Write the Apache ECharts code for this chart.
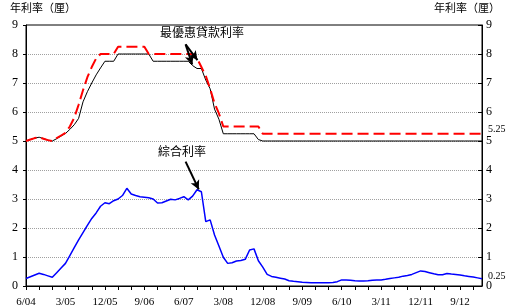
<!DOCTYPE html>
<html><head><meta charset="utf-8">
<script src="https://cdn.jsdelivr.net/npm/echarts@6/dist/echarts.min.js"></script>
<style>html,body{margin:0;padding:0;background:#fff}#c{width:511px;height:308px}</style>
</head><body><div id="c"></div>
<script>
var categories = [
'6/04','7/04','8/04','9/04','10/04','11/04','12/04',
'1/05','2/05','3/05','4/05','5/05','6/05','7/05','8/05','9/05','10/05','11/05','12/05',
'1/06','2/06','3/06','4/06','5/06','6/06','7/06','8/06','9/06','10/06','11/06','12/06',
'1/07','2/07','3/07','4/07','5/07','6/07','7/07','8/07','9/07','10/07','11/07','12/07',
'1/08','2/08','3/08','4/08','5/08','6/08','7/08','8/08','9/08','10/08','11/08','12/08',
'1/09','2/09','3/09','4/09','5/09','6/09','7/09','8/09','9/09','10/09','11/09','12/09',
'1/10','2/10','3/10','4/10','5/10','6/10','7/10','8/10','9/10','10/10','11/10','12/10',
'1/11','2/11','3/11','4/11','5/11','6/11','7/11','8/11','9/11','10/11','11/11','12/11',
'1/12','2/12','3/12','4/12','5/12','6/12','7/12','8/12','9/12','10/12','11/12','12/12',
'1/13','2/13'];

var primeBlack = [
5.0,5.05,5.10,5.13,5.08,5.03,5.0,5.08,5.17,5.26,
5.40,5.56,5.78,6.35,6.70,7.0,7.28,7.52,7.75,7.75,
7.75,8.0,8.0,8.0,8.0,8.0,8.0,8.0,8.0,7.75,
7.75,7.75,7.75,7.75,7.75,7.75,7.75,7.75,7.6,7.5,
7.5,7.1,6.8,6.1,5.75,5.25,5.25,5.25,5.25,5.25,
5.25,5.25,5.25,5.05,5.0,5.0,5.0,5.0,5.0,5.0,
5.0,5.0,5.0,5.0,5.0,5.0,5.0,5.0,5.0,5.0,
5.0,5.0,5.0,5.0,5.0,5.0,5.0,5.0,5.0,5.0,
5.0,5.0,5.0,5.0,5.0,5.0,5.0,5.0,5.0,5.0,
5.0,5.0,5.0,5.0,5.0,5.0,5.0,5.0,5.0,5.0,
5.0,5.0,5.0,5.0,5.0];

var primeRed = [
5.0,5.05,5.10,5.13,5.08,5.03,5.0,5.10,5.19,5.28,
5.50,5.80,6.25,6.75,7.20,7.55,7.85,8.0,8.0,8.0,
8.0,8.25,8.25,8.25,8.25,8.25,8.25,8.25,8.0,8.0,
8.0,8.0,8.0,8.0,8.0,8.0,8.0,8.0,8.0,7.85,
7.55,7.25,6.8,6.3,5.95,5.5,5.5,5.5,5.5,5.5,
5.5,5.5,5.5,5.5,5.25,5.25,5.25,5.25,5.25,5.25,
5.25,5.25,5.25,5.25,5.25,5.25,5.25,5.25,5.25,5.25,
5.25,5.25,5.25,5.25,5.25,5.25,5.25,5.25,5.25,5.25,
5.25,5.25,5.25,5.25,5.25,5.25,5.25,5.25,5.25,5.25,
5.25,5.25,5.25,5.25,5.25,5.25,5.25,5.25,5.25,5.25,
5.25,5.25,5.25,5.25,5.25];

var composite = [
0.26,0.32,0.38,0.44,0.40,0.35,0.30,0.46,0.62,0.78,
1.05,1.32,1.59,1.84,2.09,2.33,2.52,2.75,2.87,2.84,
2.94,3.00,3.12,3.37,3.17,3.12,3.08,3.06,3.04,3.00,
2.86,2.87,2.93,2.99,2.97,3.02,3.08,2.97,3.10,3.32,
3.25,2.22,2.28,1.76,1.38,0.99,0.78,0.80,0.86,0.88,
0.92,1.24,1.28,0.87,0.65,0.40,0.33,0.30,0.27,0.24,
0.18,0.16,0.15,0.13,0.12,0.11,0.11,0.11,0.11,0.11,
0.12,0.15,0.21,0.21,0.20,0.18,0.17,0.17,0.18,0.20,
0.21,0.21,0.23,0.26,0.28,0.30,0.34,0.36,0.40,0.46,
0.52,0.50,0.46,0.42,0.39,0.39,0.43,0.41,0.40,0.38,
0.35,0.33,0.31,0.28,0.25];

var yTicks = [0,1,2,3,4,5,6,7,8,9];
var axisTitle = '年利率（厘）';
var primeLabel = '最優惠貸款利率';
var compositeLabel = '綜合利率';
var primeEndText = '5.25';
var compositeEndText = '0.25';

// annotation arrows: [monthIndex, value] pairs
var primeArrows = [[[36.4, 8.33],[37.9, 7.64]], [[36.4, 8.33],[39.1, 7.79]]];
var compositeArrow = [[36.4, 4.29],[39.4, 3.33]];

var serif = '"Liberation Serif", "DejaVu Serif", serif';
var cjk = '"Noto Sans CJK TC", "Noto Sans CJK SC", sans-serif';

var chart = echarts.init(document.getElementById('c'), null, {renderer: 'canvas'});

function yAxisCfg(pos) {
  return {
    type: 'value', position: pos, min: 0, max: 9, interval: 1,
    axisLine: {show: true, lineStyle: {color: '#000', width: 1}},
    axisTick: {show: true, inside: pos === 'right', length: pos === 'right' ? 4 : 3, lineStyle: {color: '#000'}},
    axisLabel: {show: true, color: '#000', fontFamily: serif, fontSize: 12, margin: pos === 'right' ? 4 : 8},
    splitLine: {show: pos === 'left', showMinLine: false, showMaxLine: false,
      lineStyle: {color: '#a0a0a0', type: [1, 1], width: 1}}
  };
}

function arrowLine(pair) {
  return [{coord: pair[0], symbol: 'none'}, {coord: pair[1], symbol: 'arrow'}];
}

var option = {
  animation: false,
  backgroundColor: '#fff',
  grid: {left: 26, right: 29, top: 25, bottom: 22, show: true, borderColor: '#000', borderWidth: 1, backgroundColor: 'transparent'},
  xAxis: [{
    type: 'category', data: categories, boundaryGap: false,
    axisLine: {show: true, onZero: false, lineStyle: {color: '#000'}},
    axisTick: {show: true, interval: 2, length: 4, lineStyle: {color: '#000'}},
    axisLabel: {interval: 8, color: '#000', fontFamily: serif, fontSize: 11, margin: 11},
    splitLine: {show: false}
  }, {
    type: 'value', min: 0, max: categories.length - 1, show: false, position: 'bottom'
  }],
  yAxis: [yAxisCfg('left'), yAxisCfg('right')],
  graphic: [
    {type: 'text', left: 10, top: 2, style: {text: axisTitle, font: '11px ' + cjk, fill: '#000'}},
    {type: 'text', right: 11, top: 2, style: {text: axisTitle, font: '11px ' + cjk, fill: '#000'}},
    {type: 'text', left: 160, top: 26, style: {text: primeLabel, font: '12px ' + cjk, fill: '#000'}},
    {type: 'text', left: 158, top: 145, style: {text: compositeLabel, font: '12px ' + cjk, fill: '#000'}}
  ],
  series: [
    {
      name: 'black', type: 'line', data: primeBlack, xAxisIndex: 0, yAxisIndex: 0,
      symbol: 'none', lineStyle: {color: '#000', width: 1}, z: 3
    },
    {
      name: 'red', type: 'line', data: primeRed, xAxisIndex: 0, yAxisIndex: 0,
      symbol: 'none', lineStyle: {color: '#ff0000', width: 2, type: [11, 5]}, z: 4,
      endLabel: {show: true, formatter: primeEndText, fontFamily: serif, fontSize: 10, color: '#000', distance: 6, offset: [0, -4]}
    },
    {
      name: 'blue', type: 'line', data: composite, xAxisIndex: 0, yAxisIndex: 0,
      symbol: 'none', lineStyle: {color: '#0000ff', width: 1.5}, z: 3,
      endLabel: {show: true, formatter: compositeEndText, fontFamily: serif, fontSize: 10, color: '#000', distance: 6, offset: [0, -2]}
    },
    {
      name: 'annot', type: 'line', data: [], xAxisIndex: 1, yAxisIndex: 0, symbol: 'none', z: 6,
      markLine: {
        silent: true, animation: false, symbolSize: [7, 9],
        lineStyle: {color: '#000', width: 2, type: 'solid'},
        label: {show: false},
        emphasis: {disabled: true},
        data: [arrowLine(primeArrows[0]), arrowLine(primeArrows[1]), arrowLine(compositeArrow)]
      }
    }
  ]
};
chart.setOption(option);
</script>
</body></html>
